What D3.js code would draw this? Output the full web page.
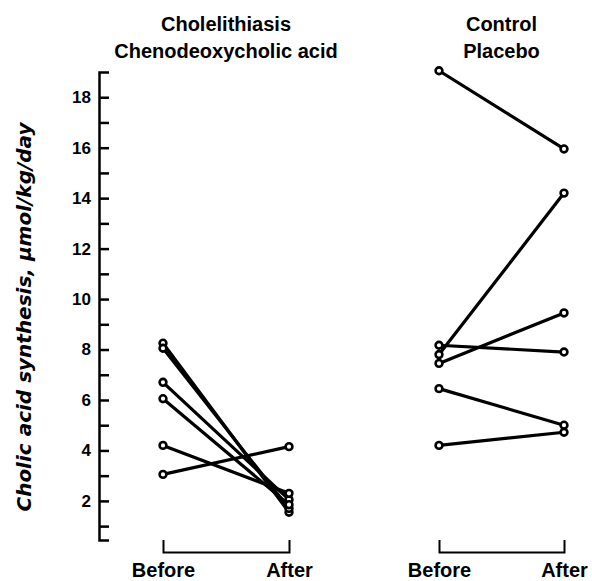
<!DOCTYPE html>
<html>
<head>
<meta charset="utf-8">
<script src="https://cdn.jsdelivr.net/npm/d3@7"></script>
<style>
  body { margin: 0; background: #fff; }
  text { font-family: "Liberation Sans", Arial, sans-serif; font-weight: bold; fill: #000; }
</style>
</head>
<body>
<svg id="chart" width="592" height="581"></svg>
<script>
// time points on each panel
const periods = ["Before", "After"];

// cholelithiasis patients on chenodeoxycholic acid
const stoneBefore = [8.25, 8.05, 6.7, 6.05, 4.2, 3.05];
const stoneAfter  = [1.55, 1.7, 2.05, 1.85, 2.3, 4.15];

// controls on placebo
const placeboBefore = [19.05, 8.17, 7.8, 7.45, 6.45, 4.2];
const placeboAfter  = [15.95, 7.9, 14.2, 9.45, 5.0, 4.72];

const yTicks = [1, 2, 3, 4, 5, 6, 7, 8, 9, 10, 11, 12, 13, 14, 15, 16, 17, 18];
const panelTitles = [["Cholelithiasis", "Chenodeoxycholic acid"], ["Control", "Placebo"]];
const yTitle = "Cholic acid synthesis, \u03bcmol/kg/day";

const svg = d3.select("#chart");

const y = d3.scaleLinear().domain([0.45, 19]).range([540, 72]);

const panels = [
  { x: d3.scalePoint().domain(periods).range([163, 289]), before: stoneBefore, after: stoneAfter, title: panelTitles[0] },
  { x: d3.scalePoint().domain(periods).range([439, 564]), before: placeboBefore, after: placeboAfter, title: panelTitles[1] }
];

// y axis, ticks pointing inward
const yAxis = d3.axisLeft(y)
  .tickValues(yTicks)
  .tickSizeInner(-10)
  .tickSizeOuter(-10)
  .tickPadding(8)
  .tickFormat(d => d % 2 === 0 ? d : "");

const yg = svg.append("g")
  .attr("transform", "translate(99,0)")
  .call(yAxis);
yg.select(".domain").attr("stroke-width", 2.5);
yg.selectAll(".tick line").attr("stroke-width", 2.5);
yg.selectAll(".tick text")
  .attr("font-size", 17)
  .attr("font-family", null);

svg.append("text")
  .attr("transform", "translate(31,317) rotate(-90)")
  .attr("text-anchor", "middle")
  .attr("font-size", 20)
  .attr("font-style", "italic")
  .style("font-family", "'DejaVu Sans', sans-serif")
  .text(yTitle);

panels.forEach(p => {
  const g = svg.append("g");
  const pairs = p.before.map((b, i) => ({ b, a: p.after[i] }));

  g.selectAll("line.subject")
    .data(pairs)
    .join("line")
    .attr("class", "subject")
    .attr("x1", p.x("Before"))
    .attr("x2", p.x("After"))
    .attr("y1", d => y(d.b))
    .attr("y2", d => y(d.a))
    .attr("stroke", "#000")
    .attr("stroke-width", 3.2);

  const pts = pairs.flatMap(d => [
    { period: "Before", v: d.b },
    { period: "After", v: d.a }
  ]);
  g.selectAll("circle")
    .data(pts)
    .join("circle")
    .attr("cx", d => p.x(d.period))
    .attr("cy", d => y(d.v))
    .attr("r", 3.4)
    .attr("fill", "#fff")
    .attr("stroke", "#000")
    .attr("stroke-width", 2.6);

  // bracket axis under each panel
  const xg = svg.append("g")
    .attr("transform", "translate(0,552)")
    .call(d3.axisBottom(p.x).tickSizeInner(0).tickSizeOuter(-12).tickPadding(11));
  xg.select(".domain").attr("stroke-width", 2);
  xg.selectAll(".tick text")
    .attr("font-size", 20)
    .attr("font-family", null);

  const cx = (p.x.range()[0] + p.x.range()[1]) / 2;
  svg.append("g")
    .selectAll("text")
    .data(p.title)
    .join("text")
    .attr("x", cx)
    .attr("y", (d, i) => 31 + i * 27)
    .attr("text-anchor", "middle")
    .attr("font-size", 20)
    .text(d => d);
});
</script>
</body>
</html>
